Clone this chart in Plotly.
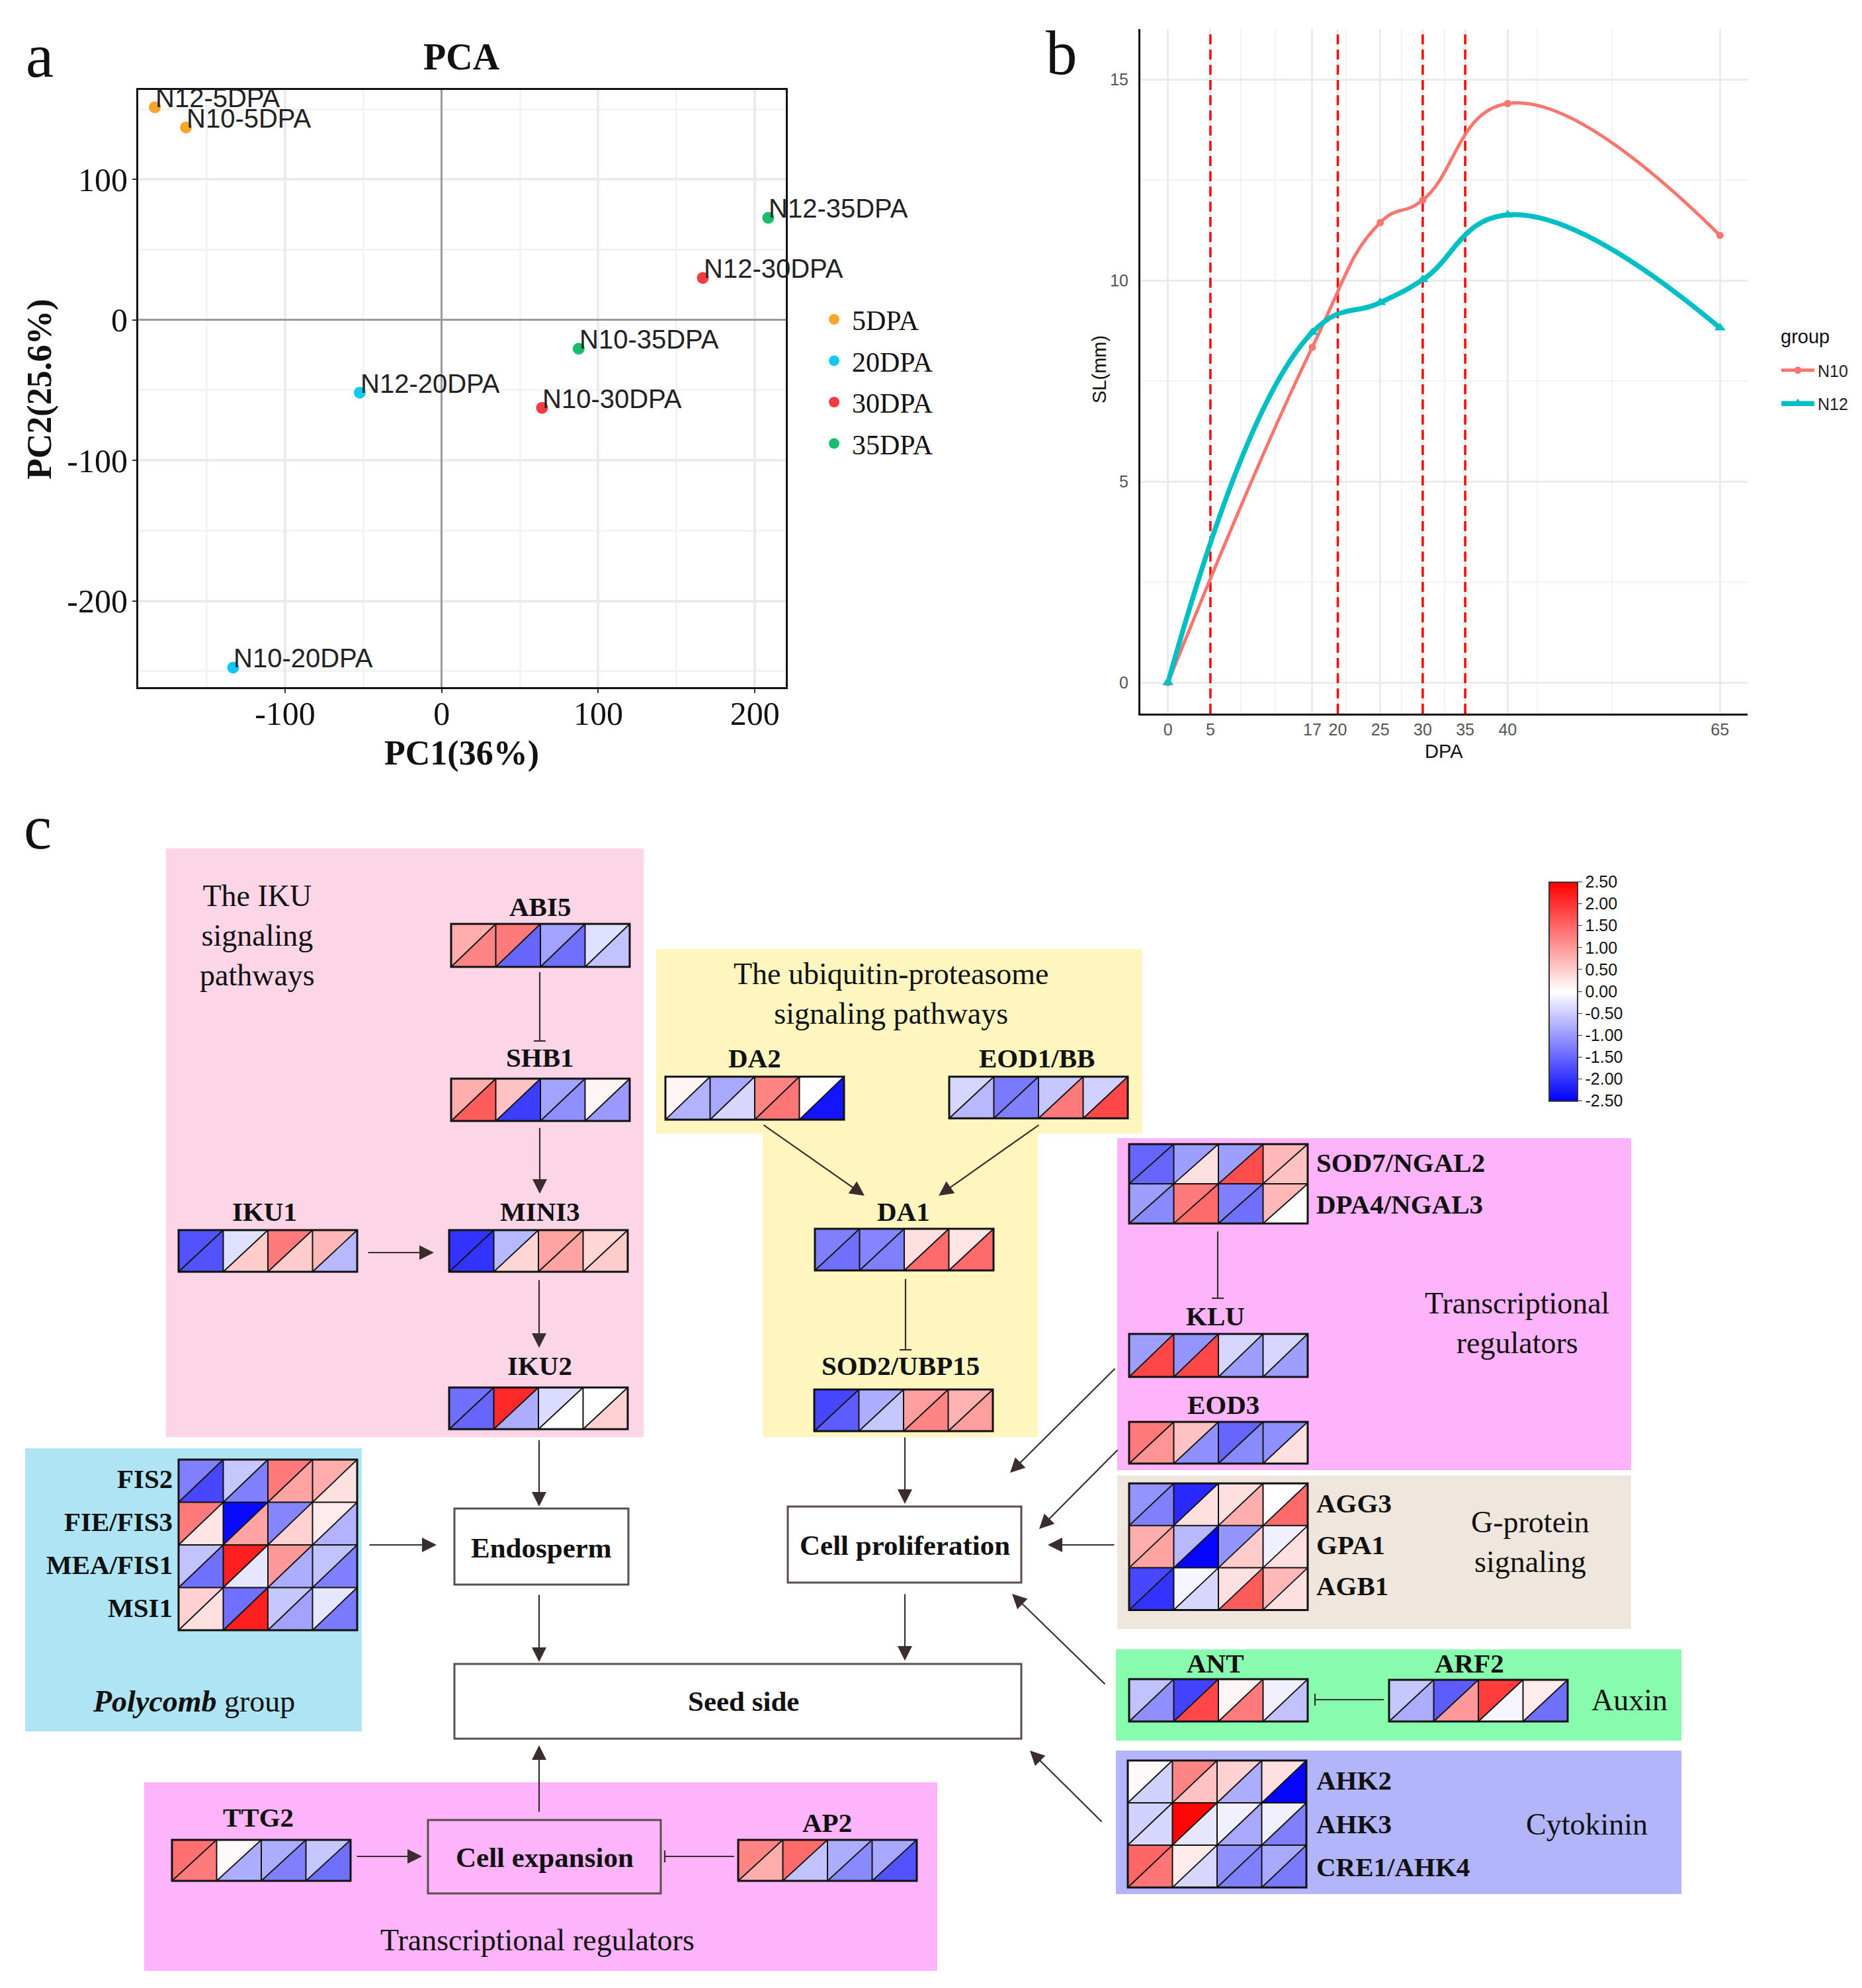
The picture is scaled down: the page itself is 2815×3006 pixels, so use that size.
import plotly.graph_objects as go
from plotly.colors import sample_colorscale

W, H = 2815, 3006
OFF = 8  # global nudge of the layout (pixels)
SERIF = "Liberation Serif, Times New Roman, serif"
SANS = "Liberation Sans, Arial, sans-serif"

# ---------------- Panel a: PCA ----------------
pca_samples = ["N12-5DPA", "N10-5DPA", "N12-20DPA", "N10-20DPA",
               "N12-30DPA", "N10-30DPA", "N12-35DPA", "N10-35DPA"]
pca_stage = ["5DPA", "5DPA", "20DPA", "20DPA", "30DPA", "30DPA", "35DPA", "35DPA"]
pc1 = [-183.2, -163.3, -52.3, -133.2, 166.8, 64.1, 208.6, 87.5]
pc2 = [151.4, 137.0, -51.8, -247.5, 29.9, -62.6, 72.7, -20.5]
stage_order = ["5DPA", "20DPA", "30DPA", "35DPA"]
stage_colors = ["#F7A62C", "#12C7F2", "#F23B45", "#18BC6C"]
pca_xticks = [-100, 0, 100, 200]
pca_yticks = [-200, -100, 0, 100]

# ---------------- Panel b: seed length ----------------
dpa = [0, 17, 25, 30, 40, 65]
sl_n10 = [0, 8.34, 11.44, 12.0, 14.4, 11.12]
sl_n12 = [0, 8.71, 9.45, 10.02, 11.63, 8.82]
dpa_ticks = [0, 5, 17, 20, 25, 30, 35, 40, 65]
dpa_minor_grid = [8.6, 12.6, 21.0, 27.5, 32.6, 43.5, 52.3]
sl_ticks = [0, 5, 10, 15]
stage_lines = [5, 20, 30, 35]

# ---------------- Panel c: expression (upper-left = N10, lower-right = N12) ----------------
ABI5_N10 = [0.8, 1.3, -0.9, -0.3];      ABI5_N12 = [1.2, -1.5, -1.4, -0.6]
SHB1_N10 = [0.8, 0.6, -0.9, 0.1];       SHB1_N12 = [1.6, -1.9, -1.1, -1.0]
IKU1_N10 = [-1.7, -0.3, 1.3, 0.7];      IKU1_N12 = [-1.7, 0.5, 0.5, -0.7]
MINI3_N10 = [-2.0, -0.7, 0.9, 0.4];     MINI3_N12 = [-2.0, 0.4, 0.9, 0.5]
IKU2_N10 = [-1.4, 2.1, -0.35, 0.0];     IKU2_N12 = [-1.5, -0.8, 0.0, 0.45]
FIS2_N10 = [-1.25, -0.55, 1.3, 0.8];    FIS2_N12 = [-1.8, -1.25, 0.9, 0.3]
FIE_FIS3_N10 = [1.3, -2.4, -1.2, 0.2];  FIE_FIS3_N12 = [0.25, 0.9, 0.45, -0.75]
MEA_FIS1_N10 = [-0.6, 2.2, 1.0, -0.6];  MEA_FIS1_N12 = [-1.4, -0.25, -0.8, -1.25]
MSI1_N10 = [0.45, -1.4, -0.55, -0.25];  MSI1_N12 = [0.3, 2.2, -0.9, -1.3]
TTG2_N10 = [1.4, 0.05, -0.8, -0.55];    TTG2_N12 = [1.3, -0.8, -1.25, -1.4]
AP2_N10 = [1.2, 1.45, -0.8, -0.85];     AP2_N12 = [0.8, -0.6, -1.15, -1.7]
DA2_N10 = [0.1, -0.85, 1.2, 0.0];       DA2_N12 = [-0.75, -0.4, 1.35, -2.3]
EOD1_BB_N10 = [-0.4, -1.3, -0.55, -0.45]; EOD1_BB_N12 = [-0.7, -1.25, 1.3, 1.8]
DA1_N10 = [-1.25, -1.2, 0.3, 0.25];     DA1_N12 = [-1.4, -1.25, 1.45, 1.45]
SOD2_UBP15_N10 = [-1.8, -0.8, 0.95, 0.75]; SOD2_UBP15_N12 = [-1.6, -0.55, 1.2, 0.95]
SOD7_NGAL2_N10 = [-1.5, -0.95, -0.95, 0.7]; SOD7_NGAL2_N12 = [-1.5, 0.3, 1.75, 0.6]
DPA4_NGAL3_N10 = [-0.95, 1.3, -1.25, 0.7]; DPA4_NGAL3_N12 = [-1.15, 1.45, -1.4, 0.0]
KLU_N10 = [-0.95, -1.05, -0.4, -0.4];   KLU_N12 = [1.8, 1.8, -0.95, -0.95]
EOD3_N10 = [1.3, 0.6, -1.5, -1.1];      EOD3_N12 = [1.05, -1.1, -1.15, 0.3]
AGG3_N10 = [-1.05, -2.1, 0.3, 0.0];     AGG3_N12 = [-1.25, 0.3, 0.8, 1.45]
GPA1_N10 = [0.8, -0.7, -1.05, -0.15];   GPA1_N12 = [0.9, -2.45, 0.5, 0.3]
AGB1_N10 = [-1.8, -0.1, 0.3, 0.7];      AGB1_N12 = [-2.0, -0.4, 1.6, 0.3]
ANT_N10 = [-0.6, -1.85, 0.1, -0.15];    ANT_N12 = [-1.1, 1.8, 1.3, -0.6]
ARF2_N10 = [-0.55, -1.6, 1.9, 0.2];     ARF2_N12 = [-0.8, 1.0, -0.1, -1.4]
AHK2_N10 = [0.05, 1.2, 0.45, 0.3];      AHK2_N12 = [-0.45, 0.6, -0.8, -2.45]
AHK3_N10 = [-0.45, 2.45, -0.15, -0.15]; AHK3_N12 = [-0.4, -0.25, -0.85, -1.25]
CRE1_AHK4_N10 = [1.5, 0.2, -1.1, -0.85]; CRE1_AHK4_N12 = [1.35, -0.4, -1.25, -1.3]

cbar_ticks = [2.5, 2.0, 1.5, 1.0, 0.5, 0.0, -0.5, -1.0, -1.5, -2.0, -2.5]
CSCALE = [[0.0, "#0000FF"], [0.5, "#FFFFFF"], [1.0, "#FF0000"]]

SL_RANGE = [-0.77, 16.25]


def px(x):
    return (x - OFF) / W


def py(y):
    return 1 - (y - OFF) / H


def vcolor(v):
    t = (max(-2.5, min(2.5, v)) + 2.5) / 5.0
    return sample_colorscale(CSCALE, [t])[0]


fig = go.Figure()
shapes = []
annotations = []

# ---------- panel a traces ----------
for stage, col in zip(stage_order, stage_colors):
    idx = [i for i, s in enumerate(pca_stage) if s == stage]
    fig.add_trace(go.Scatter(
        x=[pc1[i] for i in idx], y=[pc2[i] for i in idx],
        mode="markers", cliponaxis=False,
        marker=dict(size=18, color=col), name=stage,
        legend="legend", legendgroup=stage, xaxis="x", yaxis="y"))
for i, s in enumerate(pca_samples):
    annotations.append(dict(x=pc1[i], y=pc2[i], xref="x", yref="y", text=s,
                            showarrow=False, xanchor="left", yanchor="middle",
                            xshift=-1, yshift=14,
                            font=dict(family=SANS, size=40, color="#222222")))

# ---------- panel b: red dashed stage lines (drawn under the curves) ----------
for v in stage_lines:
    fig.add_trace(go.Scatter(
        x=[v, v], y=SL_RANGE, mode="lines", showlegend=False, hoverinfo="skip",
        line=dict(color="#FF0000", width=3.5, dash="15px,8px"),
        xaxis="x2", yaxis="y2"))

fig.add_trace(go.Scatter(
    x=dpa, y=sl_n10, mode="lines+markers", name="N10",
    line=dict(color="#F8766D", width=5, shape="spline", smoothing=1.3),
    marker=dict(symbol="circle", size=11, color="#F8766D"),
    legend="legend2", legendgroup="N10", xaxis="x2", yaxis="y2"))
fig.add_trace(go.Scatter(
    x=dpa, y=sl_n12, mode="lines+markers", name="N12",
    line=dict(color="#00BFC4", width=7.5, shape="spline", smoothing=1.3),
    marker=dict(symbol="triangle-up", size=15, color="#00BFC4"),
    legend="legend2", legendgroup="N12", xaxis="x2", yaxis="y2"))

# ---------- colour bar (dummy trace outside the visible range) ----------
fig.add_trace(go.Scatter(
    x=[-500, -500], y=[2000, 2000], mode="markers", showlegend=False,
    hoverinfo="skip", xaxis="x3", yaxis="y3",
    marker=dict(size=2, color=[-2.5, 2.5], cmin=-2.5, cmax=2.5,
                colorscale=CSCALE, showscale=True,
                colorbar=dict(x=px(2342), xanchor="left", xpad=0, ypad=0,
                              y=py(1499), yanchor="middle",
                              thickness=43, thicknessmode="pixels",
                              len=331, lenmode="pixels",
                              outlinecolor="#333333", outlinewidth=2,
                              tickvals=cbar_ticks,
                              ticktext=[f"{v:.2f}" for v in cbar_ticks],
                              ticks="outside", ticklen=6, tickcolor="#333333",
                              tickfont=dict(family=SANS, size=25, color="#111111")))))


# ---------- panel c drawing (pixel-like units on x3/y3) ----------
def rect(x0, y0, x1, y1, fill, line_color=None, lw=0):
    shapes.append(dict(type="rect", xref="x3", yref="y3", x0=x0, y0=y0, x1=x1, y1=y1,
                       fillcolor=fill, line=dict(color=line_color or fill, width=lw)))


def seg(x0, y0, x1, y1, color="#3A2D2D", lw=2.2):
    shapes.append(dict(type="line", xref="x3", yref="y3", x0=x0, y0=y0, x1=x1, y1=y1,
                       line=dict(color=color, width=lw)))


def arrow(tx, ty, hx, hy):
    annotations.append(dict(x=hx, y=hy, ax=tx, ay=ty, xref="x3", yref="y3",
                            axref="x3", ayref="y3", text="", showarrow=True,
                            arrowhead=2, arrowsize=2.0, arrowwidth=2.2,
                            arrowcolor="#3A2D2D", standoff=0, startstandoff=0))


def inhibit(tx, ty, hx, hy, bar=9):
    seg(tx, ty, hx, hy)
    if tx == hx:
        seg(hx - bar, hy, hx + bar, hy)
    else:
        seg(hx, hy - bar, hx, hy + bar)


def text(s, x, y, size=41, bold=False, xanchor="center"):
    t = f"<b>{s}</b>" if bold else s
    annotations.append(dict(x=x, y=y, xref="x3", yref="y3", text=t, showarrow=False,
                            xanchor=xanchor, yanchor="middle",
                            font=dict(family=SERIF, size=size, color="#111111")))


CW = 67.5


def block(x0, y0, ch, rows10, rows12):
    nr, nc = len(rows10), len(rows10[0])
    for r in range(nr):
        for c in range(nc):
            xa, xb = x0 + c * CW, x0 + (c + 1) * CW
            ya, yb = y0 + r * ch, y0 + (r + 1) * ch
            shapes.append(dict(type="path", xref="x3", yref="y3",
                               path=f"M {xa},{ya} L {xb},{ya} L {xa},{yb} Z",
                               fillcolor=vcolor(rows10[r][c]), line=dict(width=0)))
            shapes.append(dict(type="path", xref="x3", yref="y3",
                               path=f"M {xb},{ya} L {xb},{yb} L {xa},{yb} Z",
                               fillcolor=vcolor(rows12[r][c]), line=dict(width=0)))
    for r in range(nr):
        for c in range(nc):
            xa, xb = x0 + c * CW, x0 + (c + 1) * CW
            ya, yb = y0 + r * ch, y0 + (r + 1) * ch
            seg(xa, yb, xb, ya, color="#111111", lw=1.8)
    for c in range(1, nc):
        seg(x0 + c * CW, y0, x0 + c * CW, y0 + nr * ch, color="#111111", lw=2)
    for r in range(1, nr):
        seg(x0, y0 + r * ch, x0 + nc * CW, y0 + r * ch, color="#111111", lw=2)
    shapes.append(dict(type="rect", xref="x3", yref="y3", x0=x0, y0=y0,
                       x1=x0 + nc * CW, y1=y0 + nr * ch,
                       line=dict(color="#111111", width=3)))


PINK = "#FCD6E6"
YELLOW = "#FFF6BF"
CYAN = "#AEE4F4"
MAGENTA = "#FDB4FA"
BEIGE = "#EFE6DE"
GREEN = "#89FBAF"
LAVENDER = "#B3B5FA"

# background boxes
rect(251, 1283, 973, 2173, PINK)
shapes.append(dict(type="path", xref="x3", yref="y3",
                   path="M 992,1435 L 1727,1435 L 1727,1714 L 1569,1714 L 1569,2173 "
                        "L 1153,2173 L 1153,1714 L 992,1714 Z",
                   fillcolor=YELLOW, line=dict(width=0)))
rect(38, 2190, 547, 2618, CYAN)
rect(218, 2695, 1417, 2980, MAGENTA)
rect(1689, 1721, 2466, 2223, MAGENTA)
rect(1689, 2231, 2466, 2463, BEIGE)
rect(1687, 2494, 2542, 2632, GREEN)
rect(1687, 2647, 2542, 2864, LAVENDER)

# process boxes
rect(687, 2281, 950, 2396, "white", "#5A4E4E", 3)
rect(1191, 2278, 1544, 2393, "white", "#5A4E4E", 3)
rect(687, 2516, 1544, 2629, "white", "#5A4E4E", 3)
rect(647, 2752, 999, 2863, MAGENTA, "#5A4E4E", 3)

# heat-map blocks
block(682, 1397, 65, [ABI5_N10], [ABI5_N12])
block(682, 1631, 64, [SHB1_N10], [SHB1_N12])
block(270, 1860, 63, [IKU1_N10], [IKU1_N12])
block(679, 1860, 63, [MINI3_N10], [MINI3_N12])
block(679, 2098, 63, [IKU2_N10], [IKU2_N12])
block(270, 2207, 64.5, [FIS2_N10, FIE_FIS3_N10, MEA_FIS1_N10, MSI1_N10],
      [FIS2_N12, FIE_FIS3_N12, MEA_FIS1_N12, MSI1_N12])
block(260, 2782, 62, [TTG2_N10], [TTG2_N12])
block(1116, 2782, 62, [AP2_N10], [AP2_N12])
block(1006, 1628, 65, [DA2_N10], [DA2_N12])
block(1435, 1628, 63, [EOD1_BB_N10], [EOD1_BB_N12])
block(1232, 1858, 63, [DA1_N10], [DA1_N12])
block(1231, 2101, 63, [SOD2_UBP15_N10], [SOD2_UBP15_N12])
block(1707, 1730, 60, [SOD7_NGAL2_N10, DPA4_NGAL3_N10], [SOD7_NGAL2_N12, DPA4_NGAL3_N12])
block(1707, 2017, 65, [KLU_N10], [KLU_N12])
block(1707, 2150, 63, [EOD3_N10], [EOD3_N12])
block(1707, 2243, 63.8, [AGG3_N10, GPA1_N10, AGB1_N10], [AGG3_N12, GPA1_N12, AGB1_N12])
block(1707, 2539, 64, [ANT_N10], [ANT_N12])
block(2100, 2540, 63, [ARF2_N10], [ARF2_N12])
block(1705, 2662, 64, [AHK2_N10, AHK3_N10, CRE1_AHK4_N10], [AHK2_N12, AHK3_N12, CRE1_AHK4_N12])

# connections
inhibit(816, 1470, 816, 1574)
arrow(816, 1704, 816, 1805)
arrow(555, 1894, 656, 1894)
arrow(815, 1934, 815, 2038)
arrow(815, 2176, 815, 2278)
arrow(557, 2336, 660, 2336)
arrow(815, 2410, 815, 2513)
arrow(815, 2741, 815, 2639)
arrow(538, 2807, 638, 2807)
inhibit(1110, 2807, 1005, 2807)
arrow(1153, 1700, 1307, 1808)
arrow(1572, 1700, 1419, 1808)
inhibit(1369, 1934, 1369, 2041)
arrow(1368, 2172, 1368, 2274)
arrow(1368, 2409, 1368, 2511)
inhibit(1841, 1862, 1841, 1963)
arrow(1687, 2068, 1527, 2227)
arrow(1691, 2191, 1571, 2312)
arrow(1686, 2336, 1584, 2336)
arrow(1672, 2548, 1530, 2410)
arrow(1667, 2756, 1557, 2647)
inhibit(2092, 2570, 1988, 2570)

# gene labels
for s, x, y in [("ABI5", 816, 1371), ("SHB1", 816, 1599), ("IKU1", 400, 1832),
                ("MINI3", 816, 1832), ("IKU2", 816, 2065), ("DA2", 1141, 1600),
                ("EOD1/BB", 1567, 1600), ("DA1", 1366, 1832), ("SOD2/UBP15", 1361, 2065),
                ("KLU", 1837, 1990), ("EOD3", 1849, 2124), ("TTG2", 390, 2748),
                ("AP2", 1250, 2756), ("ANT", 1837, 2515), ("ARF2", 2221, 2515)]:
    text(s, x, y, 41, True)
for s, y in [("SOD7/NGAL2", 1758), ("DPA4/NGAL3", 1821), ("AGG3", 2273), ("GPA1", 2336),
             ("AGB1", 2398), ("AHK2", 2692), ("AHK3", 2758), ("CRE1/AHK4", 2823)]:
    text(s, 1988, y, 41, True, "left")
for s, y in [("FIS2", 2236), ("FIE/FIS3", 2301), ("MEA/FIS1", 2366), ("MSI1", 2431)]:
    text(s, 263, y, 41, True, "right")

# group / process texts
text("The IKU<br>signaling<br>pathways", 389, 1415, 46)
text("The ubiquitin-proteasome<br>signaling pathways", 1347, 1503, 46)
text("Transcriptional<br>regulators", 2293, 2001, 46)
text("G-protein<br>signaling", 2313, 2331, 46)
text("Auxin", 2463, 2570, 46)
text("Cytokinin", 2399, 2758, 46)
text("<i><b>Polycomb</b></i> group", 293, 2572, 46)
text("Transcriptional regulators", 812, 2933, 46)
text("Endosperm", 818, 2340, 43, True)
text("Cell proliferation", 1368, 2336, 43, True)
text("Seed side", 1124, 2572, 43, True)
text("Cell expansion", 823, 2808, 43, True)


# ---------- panel titles / axis titles ----------
def pann(s, x, y, size, family, bold=False, angle=0, color="#111111", xanchor="center"):
    annotations.append(dict(x=px(x), y=py(y), xref="paper", yref="paper",
                            text=f"<b>{s}</b>" if bold else s, showarrow=False,
                            textangle=angle, xanchor=xanchor, yanchor="middle",
                            font=dict(family=family, size=size, color=color)))


pann("a", 60, 84, 95, SERIF)
pann("b", 1605, 80, 95, SERIF)
pann("c", 57, 1251, 95, SERIF)
pann("PCA", 698, 86, 56, SERIF, True)
pann("PC1(36%)", 698, 1139, 52, SERIF, True)
pann("PC2(25.6%)", 60, 589, 52, SERIF, True, -90)
pann("DPA", 2183, 1136, 29, SANS)
pann("SL(mm)", 1662, 559, 29, SANS, False, -90)
pann("group", 2690, 509, 29, SANS, xanchor="left")

fig.update_layout(
    width=W, height=H, margin=dict(l=0, r=0, t=0, b=0),
    paper_bgcolor="white", plot_bgcolor="white",
    shapes=shapes, annotations=annotations,
    xaxis=dict(domain=[px(209), px(1188)], range=[-193.8, 219.8], anchor="y",
               tickvals=pca_xticks, ticktext=[str(v) for v in pca_xticks],
               showgrid=True, gridcolor="#EBEBEB", gridwidth=4,
               minor=dict(tickvals=[-150, -50, 50, 150], showgrid=True,
                          gridcolor="#F3F3F3", gridwidth=2.5),
               zeroline=True, zerolinecolor="#9A9A9A", zerolinewidth=2.5,
               showline=True, mirror=True, linecolor="#111111", linewidth=3,
               ticks="outside", ticklen=6, tickwidth=2, tickcolor="#333333",
               ticklabelstandoff=-12,
               tickfont=dict(family=SERIF, size=50, color="#111111")),
    yaxis=dict(domain=[py(1038.5), py(136)], range=[-261.2, 163.7], anchor="x",
               tickvals=pca_yticks, ticktext=[str(v) for v in pca_yticks],
               showgrid=True, gridcolor="#EBEBEB", gridwidth=4,
               minor=dict(tickvals=[-250, -150, -50, 50, 150], showgrid=True,
                          gridcolor="#F3F3F3", gridwidth=2.5),
               zeroline=True, zerolinecolor="#9A9A9A", zerolinewidth=2.5,
               showline=True, mirror=True, linecolor="#111111", linewidth=3,
               ticks="outside", ticklen=6, tickwidth=2, tickcolor="#333333",
               ticklabelstandoff=-3,
               tickfont=dict(family=SERIF, size=50, color="#111111")),
    xaxis2=dict(domain=[px(1724), px(2642)], range=[-3.25, 68.25], anchor="y2",
                tickvals=dpa_ticks, ticktext=[str(v) for v in dpa_ticks],
                showgrid=True, gridcolor="#EBEBEB", gridwidth=2.5,
                minor=dict(tickvals=dpa_minor_grid, showgrid=True,
                           gridcolor="#F3F3F3", gridwidth=2),
                zeroline=False, showline=True, linecolor="#111111", linewidth=3,
                ticks="", ticklabelstandoff=0,
                tickfont=dict(family=SANS, size=25, color="#555555")),
    yaxis2=dict(domain=[py(1079), py(44)], range=SL_RANGE, anchor="x2",
                tickvals=sl_ticks, ticktext=[str(v) for v in sl_ticks],
                showgrid=True, gridcolor="#EBEBEB", gridwidth=2.5,
                minor=dict(tickvals=[2.5, 7.5, 12.5], showgrid=True,
                           gridcolor="#F3F3F3", gridwidth=2),
                zeroline=False, showline=True, linecolor="#111111", linewidth=3,
                ticks="", ticklabelstandoff=10,
                tickfont=dict(family=SANS, size=25, color="#555555")),
    xaxis3=dict(domain=[0, 1], range=[OFF, W + OFF], anchor="y3", visible=False,
                fixedrange=True),
    yaxis3=dict(domain=[0, 1 - 1230 / H], range=[H + OFF, 1230 + OFF], anchor="x3",
                visible=False, fixedrange=True),
    legend=dict(x=px(1234), y=py(449), xanchor="left", yanchor="top",
                font=dict(family=SERIF, size=42, color="#111111"),
                bgcolor="rgba(0,0,0,0)", tracegroupgap=5, traceorder="grouped",
                itemwidth=44),
    legend2=dict(x=px(2688), y=py(537), xanchor="left", yanchor="top",
                 font=dict(family=SANS, size=25, color="#222222"),
                 bgcolor="rgba(0,0,0,0)", tracegroupgap=15, traceorder="grouped",
                 itemwidth=50),
    showlegend=True,
)

fig.write_html("out.html")
